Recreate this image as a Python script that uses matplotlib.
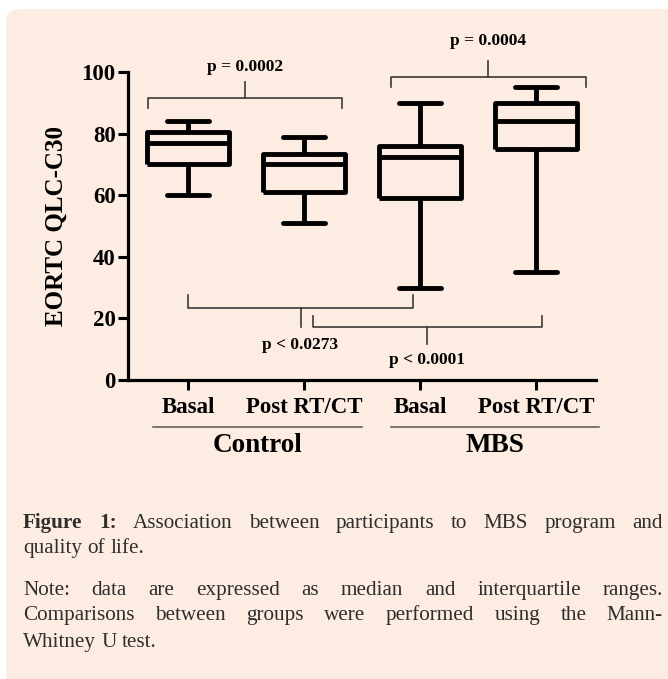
import matplotlib
matplotlib.use("Agg")
import matplotlib.pyplot as plt
from matplotlib.patches import FancyBboxPatch
from matplotlib.lines import Line2D
from matplotlib.transforms import IdentityTransform

# ---------------- data ----------------
groups = ["Control", "MBS"]
conditions = ["Basal", "Post RT/CT", "Basal", "Post RT/CT"]
whislo = [60, 51, 30, 35]
q1 = [70, 61, 59, 75]
med = [77, 70, 72.5, 84]
q3 = [80.5, 73.5, 76, 90]
whishi = [84, 79, 90, 95]
yticks = [0, 20, 40, 60, 80, 100]
pvalues = ["p = 0.0002", "p = 0.0004", "p < 0.0273", "p < 0.0001"]
ylabel = "EORTC QLC-C30"

caption1 = [("Figure", "bold"), ("1:", "bold"), ("Association", "normal"), ("between", "normal"),
            ("participants", "normal"), ("to", "normal"), ("MBS", "normal"), ("program", "normal"),
            ("and", "normal")]
caption2 = "quality of life."
note1 = "Note: data are expressed as median and interquartile ranges."
note2 = "Comparisons between groups were performed using the Mann-"
note3 = "Whitney U test."

# ---------------- figure ----------------
W, H = 668, 679
fig = plt.figure(figsize=(W / 100, H / 100), dpi=100)
fig.patch.set_facecolor("white")

panel = FancyBboxPatch((6, -30), 720, H - 9 + 30,
                       boxstyle="round,pad=0,rounding_size=14",
                       transform=IdentityTransform(), facecolor="#fdece1",
                       edgecolor="none", zorder=-10)
fig.add_artist(panel)

SERIF = "Liberation Serif"

def fx(x):
    return x / W

def fy(y):
    return 1 - y / H

ax = fig.add_axes([fx(128), fy(380), (596 - 128) / W, (380 - 72) / H])
ax.patch.set_alpha(0)

stats = []
for i in range(len(conditions)):
    stats.append(dict(med=med[i], q1=q1[i], q3=q3[i], whislo=whislo[i],
                      whishi=whishi[i], fliers=[], label=conditions[i]))

positions = list(range(1, len(conditions) + 1))
lw = 3.5
props = dict(color="black", linewidth=lw, solid_capstyle="butt")
ax.bxp(stats, positions=positions, widths=0.70, capwidths=0.36,
       showfliers=False, boxprops=props, whiskerprops=props,
       capprops=dict(color="black", linewidth=lw, solid_capstyle="round"),
       medianprops=props)

ax.set_xlim(0.483, 4.517)
ax.set_ylim(0, 100)
for s in ["top", "right"]:
    ax.spines[s].set_visible(False)
for s in ["left", "bottom"]:
    ax.spines[s].set_linewidth(2.3)

ax.set_yticks(yticks)
ax.set_yticklabels([str(t) for t in yticks], fontfamily=SERIF, fontweight="bold",
                   fontsize=16.5)
ax.set_xticks(positions)
ax.set_xticklabels(conditions, fontfamily=SERIF, fontweight="bold", fontsize=16.5)
ax.tick_params(axis="y", length=7, width=2.2, pad=2)
ax.tick_params(axis="x", length=7, width=2.2, pad=5)

fig.text(fx(56), fy(226), ylabel, rotation=90, ha="center", va="center",
         fontfamily=SERIF, fontweight="bold", fontsize=18)

# ---------------- significance brackets ----------------
bc = "#3a3a3a"
blw = 1.2

def bracket(x0, x1, y, yend, xc, ytip, label, ytext):
    ax.plot([x0, x0, x1, x1], [yend, y, y, yend], color=bc, lw=blw,
            clip_on=False, solid_joinstyle="round")
    ax.plot([xc, xc], [y, ytip], color=bc, lw=blw, clip_on=False)
    ax.text(xc, ytext, label, ha="center", va="center", fontfamily=SERIF,
            fontweight="bold", fontsize=12.5, clip_on=False)

bracket(0.655, 2.33, 91.6, 88.3, 1.49, 96.8, pvalues[0], 101.5)
bracket(2.75, 4.43, 98.4, 95.1, 3.59, 103.6, pvalues[1], 110.0)
bracket(1.0, 2.94, 23.4, 27.6, 1.97, 17.2, pvalues[2], 11.5)
bracket(2.08, 4.05, 17.2, 20.8, 3.06, 11.7, pvalues[3], 6.6)

# ---------------- group labels ----------------
gl_color = "#555555"
for (x0, x1), name in zip([(153, 362), (391, 599)], groups):
    fig.add_artist(Line2D([fx(x0), fx(x1)], [fy(427), fy(427)], color=gl_color,
                          lw=1.1, transform=fig.transFigure))
    fig.text(fx((x0 + x1) / 2), fy(452), name, ha="center", va="baseline",
             fontfamily=SERIF, fontweight="bold", fontsize=19.5)

# ---------------- caption (justified) ----------------
renderer = fig.canvas.get_renderer()
CAP_FS = 15.2
CAP_COLOR = "#2e2e2e"
X0, X1 = 23, 663

def place_line(words, y, justify=True):
    texts = []
    for w, weight in words:
        t = fig.text(0, fy(y), w, ha="left", va="baseline", fontfamily=SERIF,
                     fontweight=weight, fontsize=CAP_FS, color=CAP_COLOR)
        texts.append(t)
    widths = [t.get_window_extent(renderer).width for t in texts]
    if justify and len(texts) > 1:
        gap = (X1 - X0 - sum(widths)) / (len(texts) - 1)
    else:
        sp = fig.text(0, 0, "a a", fontfamily=SERIF, fontsize=CAP_FS)
        sa = fig.text(0, 0, "aa", fontfamily=SERIF, fontsize=CAP_FS)
        gap = sp.get_window_extent(renderer).width - sa.get_window_extent(renderer).width
        sp.remove(); sa.remove()
    x = X0
    for t, wd in zip(texts, widths):
        t.set_x(fx(x))
        x += wd + gap

place_line(caption1, 528)
place_line([(w, "normal") for w in caption2.split()], 553, justify=False)
place_line([(w, "normal") for w in note1.split()], 595)
place_line([(w, "normal") for w in note2.split()], 620)
place_line([(w, "normal") for w in note3.split()], 647, justify=False)

fig.savefig("out.png", dpi=100, facecolor="white")
